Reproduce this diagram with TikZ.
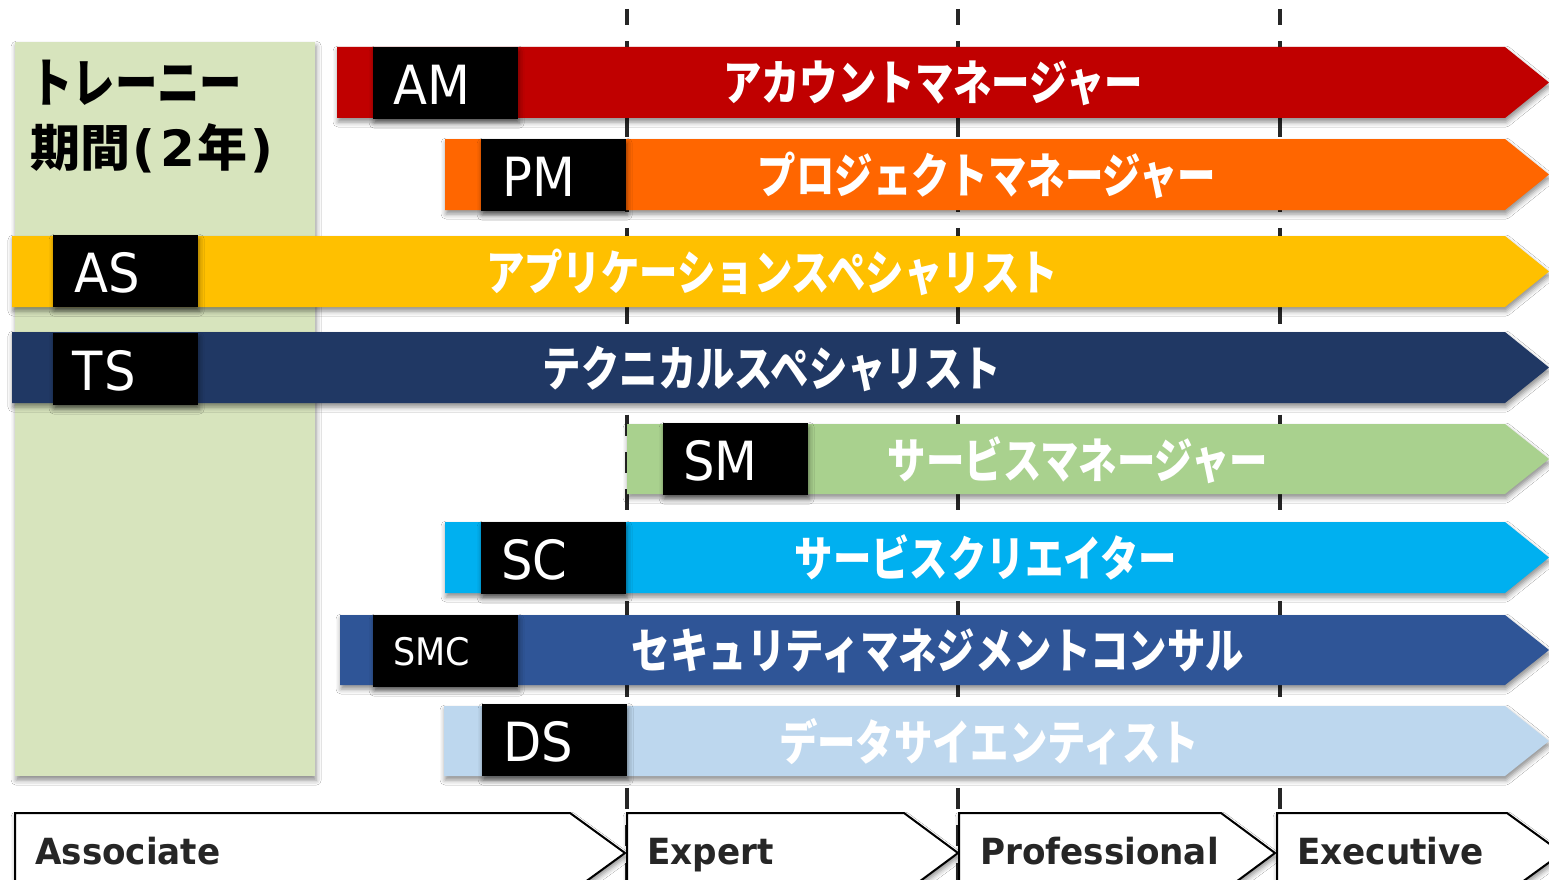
\documentclass[tikz,border=0pt]{standalone}
\usepackage{fontspec}
\usetikzlibrary{shadows.blur}
\newfontfamily\jpf[FakeStretch=0.8]{Noto Sans CJK JP}
\newfontfamily\jpn{Noto Sans CJK JP}
\newfontfamily\dvs{DejaVu Sans}
\newfontfamily\labf[FakeStretch=0.92]{DejaVu Sans}
\newfontfamily\lvlf[FakeStretch=0.95]{DejaVu Sans}
\definecolor{amc}{HTML}{C00000}
\definecolor{pmc}{HTML}{FF6600}
\definecolor{asc}{HTML}{FFC000}
\definecolor{tsc}{HTML}{203864}
\definecolor{smc}{HTML}{A9D18E}
\definecolor{scc}{HTML}{00B0F0}
\definecolor{smcc}{HTML}{2F5597}
\definecolor{dsc}{HTML}{BDD7EE}
\definecolor{trc}{HTML}{D7E4BD}
\definecolor{dk}{HTML}{262626}
\tikzset{
  shad/.style={blur shadow={shadow xshift=1pt,shadow yshift=-4pt,shadow blur radius=5pt,shadow opacity=45}},
  barshape/.style={shad},
  lblbox/.style={shad,fill=black,inner sep=0pt,minimum width=145pt,minimum height=72pt,anchor=north west},
  lbltext/.style={anchor=west,inner sep=0pt,text=white,font=\labf\fontsize{54}{60}\selectfont},
  jptext/.style={inner sep=0pt,text=white,font=\jpf\bfseries\fontsize{48}{56}\selectfont},
  vline/.style={draw=dk,line width=4.5pt,dash pattern=on 21pt off 16.33pt,dash phase=5pt},
  chev/.style={shad,fill=white,draw=black,line width=2pt,line join=miter},
  lvltext/.style={anchor=base west,inner sep=0pt,text=dk,font=\lvlf\bfseries\fontsize{36}{40}\selectfont},
  trtext/.style={anchor=west,inner sep=0pt,text=black,font=\jpf\bfseries\fontsize{53}{60}\selectfont},
  trtextb/.style={anchor=base west,inner sep=0pt,text=black,font=\jpn\bfseries\fontsize{50}{60}\selectfont}
}
\begin{document}
\begin{tikzpicture}[x=1pt,y=-1pt]
\useasboundingbox (0,0) rectangle (1549,880);
\clip (0,0) rectangle (1549,880);
\fill[white] (0,0) rectangle (1549,880);
% level dividers
\coordinate (v1a) at (627,9);   \coordinate (v1b) at (627,885);
\coordinate (v2a) at (958,9);   \coordinate (v2b) at (958,885);
\coordinate (v3a) at (1280,9);  \coordinate (v3b) at (1280,885);
\draw[vline] (v1a) -- (v1b);
\draw[vline] (v2a) -- (v2b);
\draw[vline] (v3a) -- (v3b);
% trainee period
\node[shad,fill=trc,inner sep=0pt,minimum width=300pt,minimum height=734pt,anchor=north west] (trainee) at (15,42) {};
\node[trtext] (tr1) at (30,83) {トレーニー};
\node[trtextb] (tr2) at (30,166) {期間\hspace{2pt}{\dvs\bfseries(\hspace{5pt}2}\hspace{3pt}年\hspace{3pt}{\dvs\bfseries)}};
% bars
\path[barshape,fill=amc] (337,47) -- (1505,47) -- (1549,82.5) -- (1505,118) -- (337,118) -- cycle;
\node[lblbox] (am) at (373,47) {};
\node[lbltext] (amt) at ([xshift=20pt,yshift=-2pt]am.west) {AM};
\node[jptext] (amj) at (933,83) {アカウントマネージャー};

\path[barshape,fill=pmc] (445,139) -- (1505,139) -- (1549,174.5) -- (1505,210) -- (445,210) -- cycle;
\node[lblbox] (pm) at (481,139) {};
\node[lbltext] (pmt) at ([xshift=21pt,yshift=-2pt]pm.west) {PM};
\node[jptext] (pmj) at (987,175) {プロジェクトマネージャー};

\path[barshape,fill=asc] (12,236) -- (1505,236) -- (1549,271.5) -- (1505,307) -- (12,307) -- cycle;
\node[lblbox] (as) at (53,235) {};
\node[lbltext] (ast) at ([xshift=21pt,yshift=-2pt]as.west) {AS};
\node[jptext] (asj) at (772,272) {アプリケーションスペシャリスト};

\path[barshape,fill=tsc] (12,332) -- (1505,332) -- (1549,367.5) -- (1505,403) -- (12,403) -- cycle;
\node[lblbox] (ts) at (53,333) {};
\node[lbltext] (tst) at ([xshift=19pt,yshift=-2pt]ts.west) {T\hspace{2pt}S};
\node[jptext] (tsj) at (772,369) {テクニカルスペシャリスト};

\path[barshape,fill=smc] (627,424) -- (1505,424) -- (1549,459) -- (1505,494) -- (627,494) -- cycle;
\node[lblbox] (sm) at (663,423) {};
\node[lbltext] (smt) at ([xshift=20pt,yshift=-2pt]sm.west) {SM};
\node[jptext] (smj) at (1078,460) {サービスマネージャー};

\path[barshape,fill=scc] (445,522) -- (1505,522) -- (1549,557.5) -- (1505,593) -- (445,593) -- cycle;
\node[lblbox] (sc) at (481,522) {};
\node[lbltext] (sct) at ([xshift=20pt,yshift=-2pt]sc.west) {SC};
\node[jptext] (scj) at (986,557) {サービスクリエイター};

\path[barshape,fill=smcc] (340,615) -- (1505,615) -- (1549,650) -- (1505,685) -- (340,685) -- cycle;
\node[lblbox] (smcb) at (373,615) {};
\node[lbltext,font=\labf\fontsize{38}{44}\selectfont] (smct) at ([xshift=20pt,yshift=0pt]smcb.west) {SMC};
\node[jptext] (smcj) at (938,651) {セキュリティマネジメントコンサル};

\path[barshape,fill=dsc] (444,706) -- (1505,706) -- (1549,741) -- (1505,776) -- (444,776) -- cycle;
\node[lblbox] (ds) at (482,704) {};
\node[lbltext] (dst) at ([xshift=21pt,yshift=-2pt]ds.west) {DS};
\node[jptext] (dsj) at (989,742) {データサイエンティスト};
% levels
\path[chev] (15,813) -- (570,813) -- (625,853) -- (570,893) -- (15,893) -- cycle;
\node[lvltext] (lv1) at (35,864) {Associate};
\path[chev] (627,813) -- (904,813) -- (958,853) -- (904,893) -- (627,893) -- cycle;
\node[lvltext] (lv2) at (647,864) {Expert};
\path[chev] (959,813) -- (1221,813) -- (1275,853) -- (1221,893) -- (959,893) -- cycle;
\node[lvltext] (lv3) at (980,864) {Professional};
\path[chev] (1277,813) -- (1507,813) -- (1562,853) -- (1507,893) -- (1277,893) -- cycle;
\node[lvltext] (lv4) at (1297,864) {Executive};
\end{tikzpicture}
\end{document}
